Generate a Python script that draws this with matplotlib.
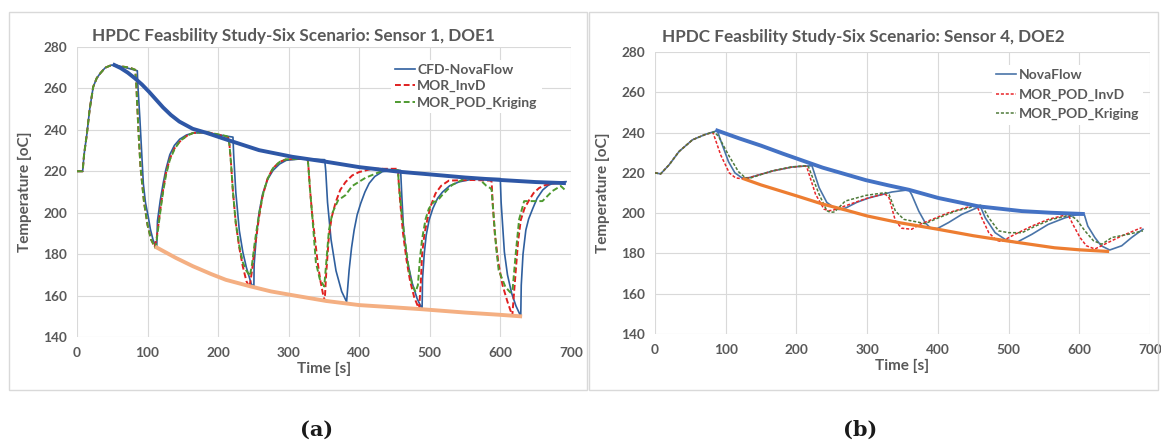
import matplotlib.pyplot as plt
from matplotlib.patches import Rectangle

# ---- (a) Sensor 1, DOE1 ----
a_nova_t = [0, 8, 10, 14, 18, 23, 28, 33, 40, 49, 60, 75, 85.5, 86, 89, 94, 97, 101, 104, 108, 113,
            114, 118, 122, 126, 131.5, 138, 145.6, 155, 164.5, 183.4, 211.6, 221, 222, 225, 230, 235, 240, 247, 250.6,
            251, 254, 258, 263, 270, 277.7, 287, 296.5, 320, 351, 352.5, 355, 360, 367, 375, 382,
            385.6, 389, 392.7, 397, 402, 408, 414, 422, 432.6, 453.8, 458.6, 460, 463, 468, 475, 482, 489,
            489.6, 492, 494.8, 499, 504.2, 511, 518, 528, 541.5, 565, 598, 599.8, 601, 605.6, 610, 616, 622, 628.8,
            629.5, 632, 636, 640, 645.8, 652, 660, 668, 678.8, 693]
a_nova_T = [220, 220, 228, 238, 250, 260.8, 265, 267.3, 270, 271.3, 270.8, 269.5, 268.5, 263, 246, 214, 205, 198, 192, 186.6, 183.3,
            196, 206, 214, 221, 228, 232.5, 235.5, 237.5, 238.5, 238.6, 237, 236.5, 228, 210, 191.4, 181, 173.6, 165.6, 164,
            175, 188, 200, 209, 216, 220.4, 223.5, 225.3, 226.1, 225.6, 220, 205, 187, 172, 162, 157,
            172.3, 183, 191.6, 199, 204.5, 210, 214.2, 217.5, 219.8, 220.6, 220.4, 210, 190, 177, 166, 158.5, 153.5,
            168, 180, 189.1, 196.5, 202, 207, 210, 213, 214.9, 216.5, 216.5, 216.5, 205, 181, 170, 161, 155, 150,
            165, 180, 191.6, 197, 202, 207, 211, 213.3, 214.7, 215]

a_invd_t = [0, 8, 10, 14, 18, 23, 28, 33, 40, 49, 60, 75, 82.5, 84, 87, 90, 95, 100, 105, 110,
            113, 116, 119, 122, 126, 131.5, 138, 145.6, 155, 164.5, 183, 211.6, 214, 216, 218, 221, 225, 230, 235, 240, 244.4,
            248, 251.5, 254, 258, 263, 270, 277.7, 287, 296.5, 324.7, 327, 328, 330, 333, 337, 341, 345, 349, 351,
            353, 357, 361, 366.5, 373, 380.5, 390, 399.5, 418, 453.8, 454.8, 456, 458, 462, 467, 472, 478, 484.7,
            487, 489, 492, 496.2, 501, 508, 516, 527, 560, 586, 587.5, 589, 592, 597, 603, 610, 616.8,
            619, 621.8, 625, 628.8, 634, 640.5, 647, 654.7, 663, 673.5, 690]
a_invd_T = [220, 220, 228, 238, 250, 260.8, 265, 267.3, 270, 271.3, 270.8, 270, 269, 262, 240, 222, 205, 194, 187, 183.5,
            188, 196, 204, 211, 219, 226, 231, 234.3, 237, 238.5, 239, 236.7, 236.5, 233, 225, 210, 195, 183, 174, 167, 163.9,
            172, 182.3, 188, 198, 208, 216.5, 221.5, 224.5, 225.8, 226, 225.5, 222, 212, 200, 188, 176, 167, 160, 157.4,
            170, 189, 198, 205, 211, 214.8, 218, 219.6, 221.2, 221.2, 221, 214, 205, 190, 177, 167, 159, 153.5,
            165, 180, 189, 196.4, 203, 209.3, 213, 215.5, 215.8, 215.5, 215, 205, 190, 176, 165, 157, 150.3,
            160, 172.3, 186, 196.4, 202, 206, 209.5, 211.9, 213.3, 214, 214.6]

a_krig_t = [0, 8, 10, 14, 18, 23, 28, 33, 40, 49, 60, 75, 82.5, 84, 87, 90, 95, 100, 105, 111,
            113, 116, 119, 122, 126, 131.5, 138, 145.6, 155, 164.5, 183, 211.6, 214, 216, 218, 221, 225, 230, 235, 240, 245,
            248, 252, 256, 260, 265, 271, 277.7, 287, 296.5, 324.7, 327, 328, 330, 333, 338.5, 344, 350.3,
            353, 357, 362, 370, 380.5, 390, 409, 432.6, 453.8, 454.8, 456, 460, 465, 470, 475, 479.8,
            483, 486, 489, 494, 498.6, 505.6, 510, 517.4, 531.5, 550.4, 569, 580, 586, 587.5,
            590, 594, 597.5, 607, 614, 617, 621.8, 626.5, 633.6, 659.5, 673.7, 685.5, 693]
a_krig_T = [220, 220, 228, 238, 250, 260.8, 265, 267.3, 270, 271.3, 270.8, 270, 269, 262, 240, 222, 205, 194, 187, 183,
            187, 195, 203, 210, 218, 225.5, 230.5, 234.5, 237, 238.5, 239, 237, 236.5, 233, 225, 210, 195, 184, 176, 172, 169.5,
            175, 186, 195, 203, 211, 217, 221.5, 224.5, 225.8, 226, 225.5, 222, 212, 200, 176, 168, 164.4,
            175, 191.6, 200, 206, 208.5, 212.9, 216.9, 220.2, 220.6, 220.5, 214, 200, 186, 173, 165, 161.8,
            165, 178, 187.3, 197, 202, 205.3, 205.5, 208.5, 213.4, 216.6, 216.6, 213, 211.8, 211,
            200, 183, 172.3, 164.2, 161.5, 162, 180.7, 196.8, 205.6, 205.6, 210.5, 212.9, 210.5]

a_upper_t = [53, 62, 72, 82, 92, 102, 112, 122, 133, 145, 164, 183, 211, 258, 305, 353, 400, 456, 500, 550, 600, 650, 690]
a_upper_T = [271.3, 269.8, 267.6, 264.9, 261.9, 258.4, 254.6, 250.8, 247.2, 244, 240.5, 238.6, 235.4, 230.2, 227,
             224.6, 222, 219.8, 218.5, 217, 215.8, 214.8, 214.3]
a_lower_t = [113, 140, 164, 190, 211, 245, 275, 305, 353, 400, 450, 489, 550, 600, 628]
a_lower_T = [183.2, 178.2, 174.2, 170.4, 167.6, 164.5, 162, 160.2, 157.4, 155.4, 154.3, 153.4, 151.8, 150.7, 150]

# ---- (b) Sensor 4, DOE2 ----
b_nova_t = [0, 8, 20, 34, 53, 72, 84, 88, 94, 104, 113, 123, 133, 166, 194, 213, 222, 232, 243, 253, 260,
            270, 285, 302, 335, 359, 363, 373, 382, 389, 399, 415, 434, 453, 460, 467, 481, 495, 511,
            533, 556, 580, 594, 607, 612, 622, 631, 643, 660, 674, 690]
b_nova_T = [220, 219.5, 224, 230.6, 236.4, 239.2, 240.5, 241, 235, 225.5, 220, 217.5, 217.6, 220.9, 222.9, 223.4, 223.5,
            212.7, 205.3, 202.8, 201.8, 202.6, 205.3, 207.5, 210.5, 211.6, 209.2, 201, 195.3, 192.8, 192.3, 195.3, 199.4,
            202.3, 203.5, 197.7, 190.3, 187, 185.4, 189.5, 194.4, 197.7, 199, 199.4, 193.6, 187.9, 183.8, 181.7,
            183.8, 187.9, 192]

b_invd_t = [0, 8, 20, 34, 53, 72, 82, 93, 105, 114, 124, 133, 166, 194, 213, 215, 227, 239, 246, 252,
            269, 298, 321, 326, 331, 340, 349, 363, 375, 392, 415, 439, 455, 462, 472, 483, 490,
            509, 533, 556, 584, 591, 601, 610, 622, 636, 660, 688]
b_invd_T = [220, 219.5, 224, 230.6, 236.4, 239.2, 240, 228.8, 220, 217.5, 217, 217.6, 220.9, 222.9, 223.4, 222.5,
            209.4, 202, 201.2, 201.5, 203.6, 207.2, 209.3, 209.3, 207.6, 196.1, 192.5, 192, 194.5, 196.9, 200.2,
            202.7, 204, 197.7, 190.3, 186.5, 185.9, 189.5, 193.6, 196.9, 199.4, 194.4, 187.9, 183.8, 182.2,
            184.6, 188.7, 192.8]

b_krig_t = [0, 8, 20, 34, 53, 72, 84, 90, 104, 118, 128, 133, 166, 194, 213, 217, 232, 243, 248, 254,
            269, 298, 326, 331, 340, 352, 368, 382, 401, 425, 453, 462, 472, 486, 500, 519, 538, 561,
            587, 596, 608, 620, 632, 646, 669, 690]
b_krig_T = [220, 219.5, 224, 230.6, 236.4, 239.2, 240.3, 238, 228.8, 220.6, 217.5, 217.2, 221, 223, 223.5, 223,
            209.4, 201.2, 200.4, 200.6, 206, 208.8, 210.2, 209.2, 201, 196.9, 195.8, 194.8, 197.7, 201, 203.5,
            204, 197.7, 191.2, 190.3, 190.3, 193.6, 196.9, 199, 196.9, 191.2, 186.3, 184.6, 187.9, 189.5, 191.2]

b_upper_t = [88, 120, 150, 181, 237, 298, 330, 359, 401, 457, 519, 560, 605]
b_upper_T = [241, 237, 233.5, 229.5, 222.6, 216.4, 213.8, 211.6, 207.5, 203.4, 201, 200.2, 199.6]
b_lower_t = [126, 150, 200, 236, 270, 300, 345, 400, 450, 500, 565, 600, 640]
b_lower_T = [217, 214, 208.6, 204.6, 201.5, 198.6, 195.3, 192, 188.8, 186.1, 182.8, 181.8, 181]

W, H = 1161, 444
fig = plt.figure(figsize=(W / 100, H / 100), dpi=100)
plt.rcParams['font.family'] = ['Lato', 'DejaVu Sans']
txt = '#595959'


def px_axes(x0, x1, ytop, ybot):
    return fig.add_axes([x0 / W, 1 - ybot / H, (x1 - x0) / W, (ybot - ytop) / H])


def style(ax):
    ax.set_xlim(0, 700)
    ax.set_ylim(140, 280)
    ax.set_xticks(range(0, 701, 100))
    ax.set_yticks(range(140, 281, 20))
    ax.grid(True, color='#D9D9D9', linewidth=0.8)
    ax.set_axisbelow(True)
    for s in ax.spines.values():
        s.set_visible(False)
    ax.tick_params(length=0, labelsize=9.8, labelcolor=txt, pad=7)
    for lab in ax.get_xticklabels() + ax.get_yticklabels():
        lab.set_fontweight('bold')
    ax.set_xlabel('Time [s]', fontsize=11, fontweight='bold', color=txt, labelpad=2)
    ax.set_ylabel('Temperature [oC]', fontsize=11, fontweight='bold', color=txt, labelpad=8)


# panel frames
fig.patches.append(Rectangle((9 / W, 1 - 390 / H), (587 - 9) / W, (390 - 12) / H,
                             transform=fig.transFigure, fill=False, edgecolor='#D9D9D9', lw=1))
fig.patches.append(Rectangle((589 / W, 1 - 390 / H), (1158 - 589) / W, (390 - 12) / H,
                             transform=fig.transFigure, fill=False, edgecolor='#D9D9D9', lw=1))

# (a)
ax1 = px_axes(77, 571, 47, 337)
style(ax1)
ax1.plot(a_nova_t, a_nova_T, color='#2F5F9E', lw=1.2, label='CFD-NovaFlow', zorder=2)
ax1.plot(a_invd_t, a_invd_T, color='#E02020', lw=1.4, ls=(0, (3, 1.5)), label='MOR_InvD', zorder=2)
ax1.plot(a_krig_t, a_krig_T, color='#4E9A30', lw=1.4, ls=(0, (3, 1.5)), label='MOR_POD_Kriging', zorder=2)
ax1.plot(a_upper_t, a_upper_T, color='#2E57A6', lw=2.8, zorder=3)
ax1.plot(a_lower_t, a_lower_T, color='#F4AF82', lw=2.8, zorder=3)
leg1 = ax1.legend(loc='upper right', bbox_to_anchor=(0.955, 0.98), fontsize=10, handlelength=1.4,
                  handletextpad=0.2, labelspacing=0.3, facecolor='white', edgecolor='none',
                  framealpha=1, borderpad=0.3)
for t in leg1.get_texts():
    t.set_color(txt)
    t.set_fontweight('bold')
fig.text(293 / W, 1 - 36 / H, 'HPDC Feasbility Study-Six Scenario: Sensor 1, DOE1', ha='center', va='center',
         fontsize=12.3, fontweight='bold', color=txt)

# (b)
ax2 = px_axes(655, 1150, 52, 334)
style(ax2)
ax2.plot(b_nova_t, b_nova_T, color='#4A74A8', lw=1.2, label='NovaFlow', zorder=2)
ax2.plot(b_invd_t, b_invd_T, color='#E8262A', lw=1.1, ls=(0, (2, 1.2)), label='MOR_POD_InvD', zorder=2)
ax2.plot(b_krig_t, b_krig_T, color='#4F7A3A', lw=1.1, ls=(0, (2, 1.2)), label='MOR_POD_Kriging', zorder=2)
ax2.plot(b_upper_t, b_upper_T, color='#4472C4', lw=2.8, zorder=3)
ax2.plot(b_lower_t, b_lower_T, color='#ED7D31', lw=2.3, zorder=3)
leg2 = ax2.legend(loc='upper right', bbox_to_anchor=(1.0, 0.98), fontsize=10, handlelength=1.4,
                  handletextpad=0.2, labelspacing=0.55, facecolor='white', edgecolor='none',
                  framealpha=1, borderpad=0.3)
for t in leg2.get_texts():
    t.set_color(txt)
    t.set_fontweight('bold')
fig.text(863 / W, 1 - 37 / H, 'HPDC Feasbility Study-Six Scenario: Sensor 4, DOE2', ha='center', va='center',
         fontsize=12.3, fontweight='bold', color=txt)

fig.text(317 / W, 1 - 430 / H, '(a)', ha='center', va='center', fontsize=15, fontweight='bold',
         family='DejaVu Serif', color='#1a1a1a')
fig.text(860 / W, 1 - 430 / H, '(b)', ha='center', va='center', fontsize=15, fontweight='bold',
         family='DejaVu Serif', color='#1a1a1a')

fig.savefig('out.png', dpi=100)
